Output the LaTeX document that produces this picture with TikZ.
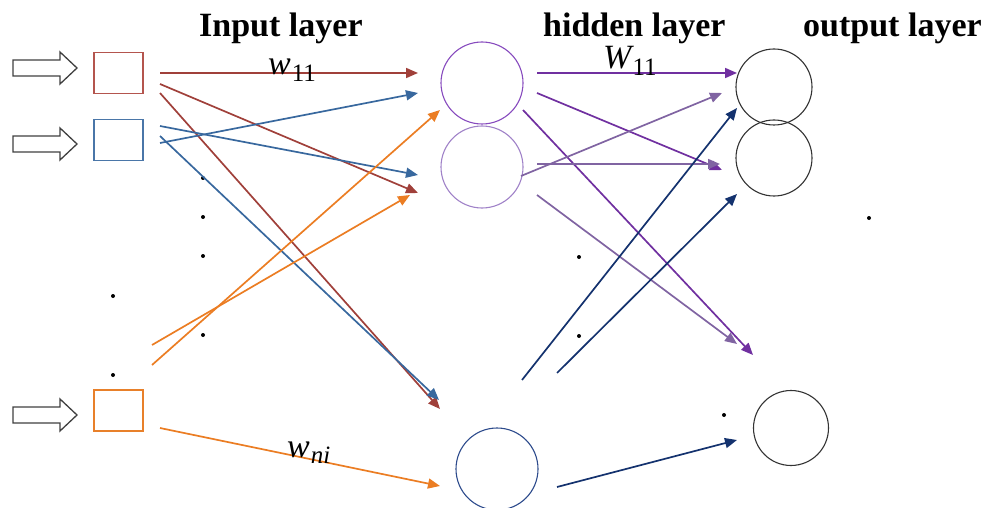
\documentclass[tikz,border=0pt]{standalone}
\usepackage{fontspec}
\setmainfont{Liberation Serif}
\usetikzlibrary{arrows.meta}
\definecolor{linkred}{RGB}{160,64,58}
\definecolor{linkblue}{RGB}{56,104,158}
\definecolor{linkorange}{RGB}{235,125,35}
\definecolor{linkpurple}{RGB}{112,48,160}
\definecolor{linklilac}{RGB}{128,100,162}
\definecolor{linknavy}{RGB}{20,50,110}
\definecolor{boxred}{RGB}{180,85,78}
\definecolor{boxblue}{RGB}{74,118,168}
\definecolor{boxorange}{RGB}{232,128,42}
\definecolor{ringpurple}{RGB}{135,75,190}
\definecolor{ringlilac}{RGB}{160,130,200}
\definecolor{ringnavy}{RGB}{45,75,140}
% weight symbol: italic letter with a lowered, smaller index
\newcommand{\weightsym}[2]{{\fontsize{34}{40}\selectfont\itshape #1}\kern1pt\raisebox{-6.5pt}{\fontsize{25}{28}\selectfont #2}}
\begin{document}
\begin{tikzpicture}[x=1pt,y=-1pt,
  link/.style={line width=1.7pt,-{Triangle[length=12pt,width=10pt]}},
  inbox/.style={draw,line width=1.2pt,minimum width=49pt,minimum height=41pt,inner sep=0pt},
  neuron/.style={draw,circle,line width=1.1pt,minimum size=82pt,inner sep=0pt},
  feed/.style={draw=black!75,line width=1.3pt,fill=white},
  title/.style={font=\fontsize{34}{40}\selectfont\bfseries,anchor=base west,inner sep=0pt},
  wlabel/.style={anchor=base west,inner sep=0pt},
  dot/.style={circle,fill=black,inner sep=0pt,minimum size=4pt}
]
\useasboundingbox (0,0) rectangle (991,508);

% layer titles
\node[title] (tin)  at (199,37) {Input layer};
\node[title] (thid) at (543,37) {hidden layer};
\node[title] (tout) at (803,37) {output layer};

% hollow feed arrows into the input boxes
\foreach \y in {68,144,415}
  \draw[feed,shift={(0,\y)}] (13,-8) -- (60,-8) -- (60,-16) -- (77,0)
        -- (60,16) -- (60,8) -- (13,8) -- cycle;

% input units
\node[inbox,draw=boxred]    (x1) at (118.5,73) {};
\node[inbox,draw=boxblue]   (x2) at (118.5,140) {};
\node[inbox,draw=boxorange] (xn) at (118.5,410.5) {};

% hidden units
\node[neuron,draw=ringpurple] (h1) at (482,83) {};
\node[neuron,draw=ringlilac]  (h2) at (482,167) {};
\node[neuron,draw=ringnavy]   (hm) at (497,469) {};

% output units
\node[neuron,minimum size=76pt,draw=black!80] (o1) at (774,87) {};
\node[neuron,minimum size=76pt,draw=black!80] (o2) at (774,158) {};
\node[neuron,minimum size=75pt,draw=black!80] (ok) at (791,428) {};

% ellipsis dots
\foreach \p/\q in {203/178,203/217,203/256,203/335,113/296,113/375,
                   579/257,579/336,869/218,724/415}
  \node[dot] at (\p,\q) {};

% end points of the input-to-hidden weights
\coordinate (a1s) at (160,73);  \coordinate (a1e) at (418,73);
\coordinate (a2s) at (160,84);  \coordinate (a2e) at (418,193);
\coordinate (a3s) at (160,93);  \coordinate (a3e) at (440,409);
\coordinate (b1s) at (160,143); \coordinate (b1e) at (418,93);
\coordinate (b2s) at (160,126); \coordinate (b2e) at (418,175);
\coordinate (b3s) at (160,136); \coordinate (b3e) at (439,400);
\coordinate (c1s) at (152,365); \coordinate (c1e) at (440,110);
\coordinate (c2s) at (152,345); \coordinate (c2e) at (410,195);
\coordinate (c3s) at (160,428); \coordinate (c3e) at (440,486);

% end points of the hidden-to-output weights
\coordinate (p1s) at (537,73);  \coordinate (p1e) at (737,73);
\coordinate (p2s) at (537,93);  \coordinate (p2e) at (722,170);
\coordinate (p3s) at (523,110); \coordinate (p3e) at (753,355);
\coordinate (q1s) at (521,176); \coordinate (q1e) at (722,93);
\coordinate (q2s) at (537,164); \coordinate (q2e) at (720,164);
\coordinate (q3s) at (537,195); \coordinate (q3e) at (737,344);
\coordinate (n1s) at (522,380); \coordinate (n1e) at (737,108);
\coordinate (n2s) at (557,373); \coordinate (n2e) at (737,194);
\coordinate (n3s) at (557,487); \coordinate (n3e) at (737,440);

% input -> hidden
\draw[link,linkred]    (a1s) -- (a1e);
\draw[link,linkred]    (a2s) -- (a2e);
\draw[link,linkred]    (a3s) -- (a3e);
\draw[link,linkblue]   (b1s) -- (b1e);
\draw[link,linkblue]   (b2s) -- (b2e);
\draw[link,linkblue]   (b3s) -- (b3e);
\draw[link,linkorange] (c1s) -- (c1e);
\draw[link,linkorange] (c2s) -- (c2e);
\draw[link,linkorange] (c3s) -- (c3e);

% hidden -> output
\draw[link,linkpurple] (p1s) -- (p1e);
\draw[link,linkpurple] (p2s) -- (p2e);
\draw[link,linkpurple] (p3s) -- (p3e);
\draw[link,linklilac]  (q1s) -- (q1e);
\draw[link,linklilac]  (q2s) -- (q2e);
\draw[link,linklilac]  (q3s) -- (q3e);
\draw[link,linknavy]   (n1s) -- (n1e);
\draw[link,linknavy]   (n2s) -- (n2e);
\draw[link,linknavy]   (n3s) -- (n3e);

% weight labels
\node[wlabel] (w11) at (268,75)  {\weightsym{w}{11}};
\node[wlabel] (W11) at (603,69)  {\weightsym{W}{11}};
\node[wlabel] (wni) at (287,457) {\weightsym{w}{\itshape ni}};
\end{tikzpicture}
\end{document}
